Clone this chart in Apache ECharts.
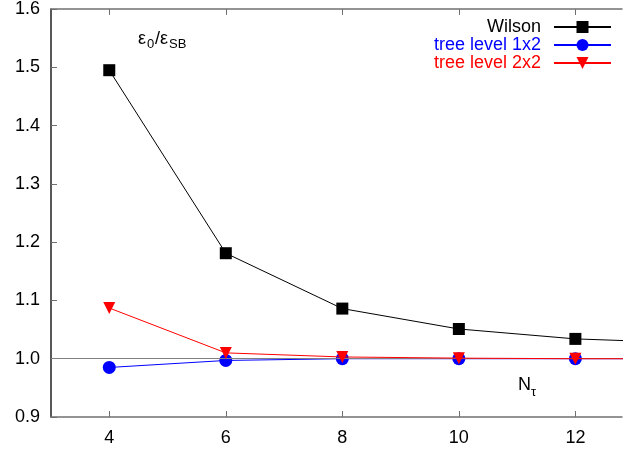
<!DOCTYPE html>
<html>
<head>
<meta charset="utf-8">
<script src="https://cdn.jsdelivr.net/npm/echarts@6/dist/echarts.min.js"></script>
<style>
  html, body { margin: 0; padding: 0; background: #fff; }
  #chart { width: 623px; height: 450px; }
</style>
</head>
<body>
<div id="chart"></div>
<script>
// N_tau values (the last point lies beyond the right edge and is clipped)
var ntau = [4, 6, 8, 10, 12, 14];
var wilson = [1.495, 1.181, 1.086, 1.051, 1.034, 1.027];
var tree1x2 = [0.985, 0.997, 1.000, 1.000, 1.000, 1.000];
var tree2x2 = [1.087, 1.010, 1.003, 1.001, 1.000, 1.000];
var xTicks = [4, 6, 8, 10, 12];

var FONT = 'Liberation Sans';

function pairs(xs, ys) {
  return xs.map(function (x, i) { return [x, ys[i]]; });
}

function txt(x, y, s, size) {
  return {
    type: 'text', x: x, y: y,
    style: { text: s, fontFamily: FONT, fontSize: size, fill: '#000' }
  };
}

var chart = echarts.init(document.getElementById('chart'));

var option = {
  backgroundColor: '#ffffff',
  animation: false,
  grid: { left: 51, right: 1, top: 8, bottom: 33 },
  legend: {
    orient: 'vertical',
    right: 6,
    top: 13,
    align: 'right',
    itemWidth: 57,
    itemHeight: 15,
    itemGap: 0,
    textStyle: { fontFamily: FONT, fontSize: 18, padding: [0, 8, 0, 0] },
    data: [
      { name: 'Wilson', textStyle: { color: '#000000' } },
      { name: 'tree level 1x2', textStyle: { color: '#0000ff' } },
      { name: 'tree level 2x2', textStyle: { color: '#ff0000' } }
    ]
  },
  xAxis: [{
    type: 'value',
    min: 3,
    max: 12.8,
    splitLine: { show: false },
    axisLine: { onZero: false, lineStyle: { color: '#707070', width: 1.5 } },
    axisTick: { inside: true, length: 6, customValues: xTicks, lineStyle: { color: '#707070' } },
    axisLabel: { customValues: xTicks, color: '#000', fontFamily: FONT, fontSize: 18, margin: 12 }
  }, {
    type: 'value',
    position: 'top',
    min: 3,
    max: 12.8,
    splitLine: { show: false },
    axisLine: { lineStyle: { color: '#707070', width: 1.5 } },
    axisTick: { inside: true, length: 6, customValues: xTicks, lineStyle: { color: '#707070' } },
    axisLabel: { show: false }
  }],
  yAxis: {
    type: 'value',
    min: 0.9,
    max: 1.6,
    interval: 0.1,
    splitLine: { show: false },
    axisLine: { show: true, lineStyle: { color: '#202020', width: 1.5 } },
    axisTick: { inside: true, length: 6, lineStyle: { color: '#707070' } },
    axisLabel: {
      color: '#000', fontFamily: FONT, fontSize: 18, margin: 11,
      formatter: function (v) { return v.toFixed(1); }
    }
  },
  series: [{
    name: 'Wilson',
    type: 'line',
    data: pairs(ntau, wilson),
    symbol: 'rect',
    symbolSize: 12,
    color: '#000000',
    lineStyle: { color: '#000000', width: 1 },
    clip: true,
    z: 3
  }, {
    name: 'tree level 1x2',
    type: 'line',
    data: pairs(ntau, tree1x2),
    symbol: 'circle',
    symbolSize: 13,
    color: '#0000ff',
    lineStyle: { color: '#0000ff', width: 1 },
    clip: true,
    z: 4,
    markLine: {
      silent: true,
      symbol: 'none',
      label: { show: false },
      lineStyle: { color: '#808080', width: 1, type: 'solid' },
      data: [{ yAxis: 1.0 }]
    }
  }, {
    name: 'tree level 2x2',
    type: 'line',
    data: pairs(ntau, tree2x2),
    symbol: 'triangle',
    symbolRotate: 180,
    symbolSize: 12,
    color: '#ff0000',
    lineStyle: { color: '#ff0000', width: 1 },
    clip: true,
    z: 5
  }],
  graphic: [{
    type: 'group',
    left: 138,
    top: 30,
    children: [
      txt(0, 0, 'ε', 18),
      txt(9, 8, '0', 13),
      txt(17, 0, '/ε', 18),
      txt(31, 8, 'SB', 13)
    ]
  }, {
    type: 'group',
    left: 518,
    top: 376,
    children: [
      txt(0, 0, 'N', 18),
      txt(13, 10, 'τ', 13)
    ]
  }]
};

chart.setOption(option);
</script>
</body>
</html>
